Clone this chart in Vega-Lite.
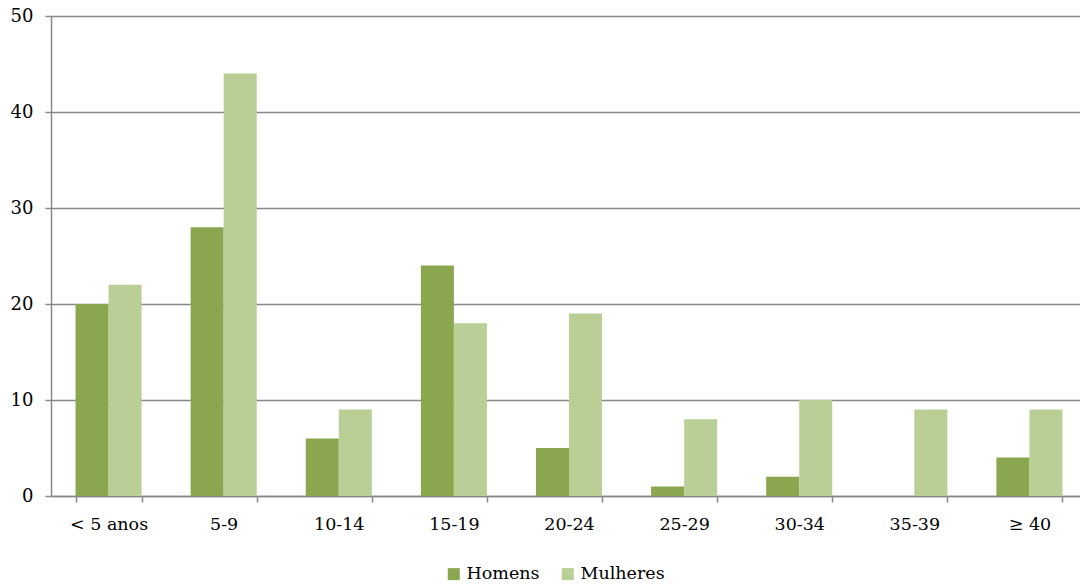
{
  "$schema": "https://vega.github.io/schema/vega-lite/v6.json",
  "width": 1036,
  "height": 480,
  "autosize": {"type": "none"},
  "padding": {"left": 51, "top": 16, "right": 2, "bottom": 91},
  "background": "white",
  "config": {
    "view": {"stroke": null},
    "font": "DejaVu Serif"
  },
  "data": {
    "values": [
      {"idade": "< 5 anos", "sexo": "Homens", "valor": 20},
      {"idade": "< 5 anos", "sexo": "Mulheres", "valor": 22},
      {"idade": "5-9", "sexo": "Homens", "valor": 28},
      {"idade": "5-9", "sexo": "Mulheres", "valor": 44},
      {"idade": "10-14", "sexo": "Homens", "valor": 6},
      {"idade": "10-14", "sexo": "Mulheres", "valor": 9},
      {"idade": "15-19", "sexo": "Homens", "valor": 24},
      {"idade": "15-19", "sexo": "Mulheres", "valor": 18},
      {"idade": "20-24", "sexo": "Homens", "valor": 5},
      {"idade": "20-24", "sexo": "Mulheres", "valor": 19},
      {"idade": "25-29", "sexo": "Homens", "valor": 1},
      {"idade": "25-29", "sexo": "Mulheres", "valor": 8},
      {"idade": "30-34", "sexo": "Homens", "valor": 2},
      {"idade": "30-34", "sexo": "Mulheres", "valor": 10},
      {"idade": "35-39", "sexo": "Homens", "valor": 0},
      {"idade": "35-39", "sexo": "Mulheres", "valor": 9},
      {"idade": "≥ 40", "sexo": "Homens", "valor": 4},
      {"idade": "≥ 40", "sexo": "Mulheres", "valor": 9}
    ]
  },
  "mark": {"type": "bar"},
  "encoding": {
    "x": {
      "field": "idade",
      "type": "nominal",
      "sort": null,
      "scale": {"paddingInner": 0.426, "paddingOuter": 0.213},
      "axis": {
        "title": null,
        "labelAngle": 0,
        "labelFont": "DejaVu Serif",
        "labelFontSize": 17.5,
        "labelColor": "#000000",
        "labelPadding": 13,
        "domainColor": "#888888",
        "domainWidth": 1.5,
        "tickColor": "#888888",
        "tickWidth": 1.5,
        "tickSize": 6,
        "tickBand": "extent",
        "grid": false
      }
    },
    "xOffset": {"field": "sexo", "type": "nominal", "scale": {"paddingInner": 0, "paddingOuter": 0}},
    "y": {
      "field": "valor",
      "type": "quantitative",
      "scale": {"domain": [0, 50]},
      "axis": {
        "title": null,
        "values": [0, 10, 20, 30, 40, 50],
        "labelFont": "DejaVu Serif",
        "labelFontSize": 18,
        "labelColor": "#000000",
        "labelPadding": 12,
        "domainColor": "#888888",
        "domainWidth": 1.5,
        "tickColor": "#888888",
        "tickWidth": 1.5,
        "tickSize": 6,
        "grid": true,
        "gridColor": "#888888",
        "gridWidth": 1.5
      }
    },
    "color": {
      "field": "sexo",
      "type": "nominal",
      "scale": {"domain": ["Homens", "Mulheres"], "range": ["#8AA64F", "#B9CF96"]},
      "legend": {
        "title": null,
        "orient": "none",
        "direction": "horizontal",
        "legendX": 394,
        "legendY": 549,
        "symbolType": "square",
        "symbolSize": 144,
        "symbolStrokeWidth": 0,
        "labelFont": "DejaVu Serif",
        "labelFontSize": 17.5,
        "labelColor": "#000000",
        "labelOffset": 4,
        "columnPadding": 19
      }
    }
  }
}
